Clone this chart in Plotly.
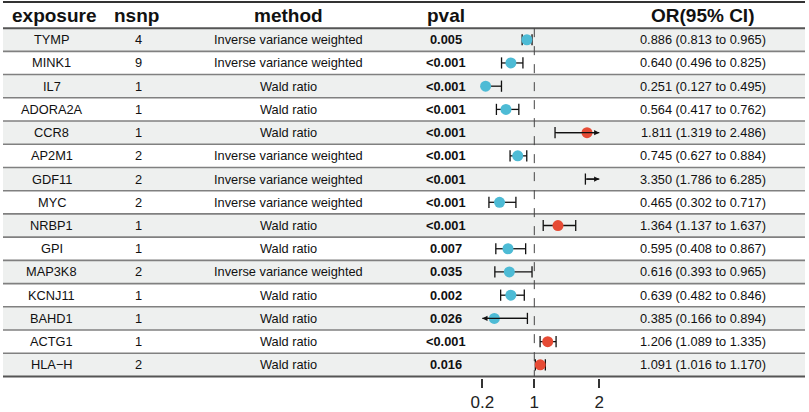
import plotly.graph_objects as go

exposure = ["TYMP", "MINK1", "IL7", "ADORA2A", "CCR8", "AP2M1", "GDF11", "MYC",
            "NRBP1", "GPI", "MAP3K8", "KCNJ11", "BAHD1", "ACTG1", "HLA−H"]
nsnp = [4, 9, 1, 1, 1, 2, 2, 2, 1, 1, 2, 1, 1, 1, 2]
ivw = "Inverse variance weighted"
wald = "Wald ratio"
method = [ivw, ivw, wald, wald, wald, ivw, ivw, ivw, wald, wald, ivw, wald, wald, wald, wald]
pval = ["0.005", "<0.001", "<0.001", "<0.001", "<0.001", "<0.001", "<0.001", "<0.001",
        "<0.001", "0.007", "0.035", "0.002", "0.026", "<0.001", "0.016"]
or_val = [0.886, 0.640, 0.251, 0.564, 1.811, 0.745, 3.350, 0.465, 1.364, 0.595, 0.616, 0.639, 0.385, 1.206, 1.091]
lower = [0.813, 0.496, 0.127, 0.417, 1.319, 0.627, 1.786, 0.302, 1.137, 0.408, 0.393, 0.482, 0.166, 1.089, 1.016]
upper = [0.965, 0.825, 0.495, 0.762, 2.486, 0.884, 6.285, 0.717, 1.637, 0.867, 0.965, 0.846, 0.894, 1.335, 1.170]
headers = ["exposure", "nsnp", "method", "pval", "", "OR(95% CI)"]
tick_vals = [0.2, 1, 2]
tick_text = ["0.2", "1", "2"]
xlim = [0.2, 2.0]

W, H = 809, 412
# pixel geometry
px0, ppu = 469.3, 65.0          # x pixel of value 0, pixels per unit
row_top, row_h = 28.5, 23.53    # y pixel of header line, row height
plot_bottom = 383.0
min_arrow = 0.1                 # arrows shorter than this are hidden under the point

def ypx_to_i(p):
    return 0.5 + (p - row_top) / row_h

xr = [(0 - px0) / ppu, (W - px0) / ppu]
yr = [ypx_to_i(plot_bottom), ypx_to_i(0)]

BLUE = "#4DBBD5"
RED = "#E64B35"
FONT = "Liberation Sans"
n = len(exposure)
rows = list(range(1, n + 1))

fig = go.Figure()
shapes = []
annotations = []

# shading
for i in rows:
    if i % 2 == 1:
        shapes.append(dict(type="rect", xref="paper", yref="y", x0=3 / W, x1=805 / W,
                           y0=i - 0.5, y1=i + 0.5, fillcolor="#EEF0EF", line=dict(width=0), layer="below"))
# separators
for i in range(0, n + 1):
    yline = i + 0.5
    if i == 0 or i == n:
        col, wd = "#555555", 2
    else:
        col, wd = "#808080", 1.6
    shapes.append(dict(type="line", xref="paper", yref="y", x0=3 / W, x1=805 / W,
                       y0=yline, y1=yline, line=dict(color=col, width=wd), layer="below"))
# top line
shapes.append(dict(type="line", xref="paper", yref="y", x0=3 / W, x1=805 / W,
                   y0=ypx_to_i(2), y1=ypx_to_i(2), line=dict(color="#333333", width=2), layer="below"))
# reference line
shapes.append(dict(type="line", xref="x", yref="y", x0=1, x1=1, y0=0.5, y1=n + 0.5,
                   line=dict(color="#444444", width=1, dash="dash"), layer="below"))

# whiskers
wx, wy, capx, capy = [], [], [], []
for i, v, lo, hi in zip(rows, or_val, lower, upper):
    a = max(lo, xlim[0])
    b = min(hi, xlim[1])
    wx += [a, b, None]
    wy += [i, i, None]
    if lo >= xlim[0]:
        capx.append(lo); capy.append(i)
    elif v - xlim[0] > min_arrow:
        annotations.append(dict(x=xlim[0], y=i, ax=b, ay=i, xref="x", yref="y", axref="x", ayref="y",
                                showarrow=True, arrowhead=2, arrowsize=0.8, arrowwidth=1.3,
                                arrowcolor="#111111", text="", standoff=0, startstandoff=0))
    if hi <= xlim[1]:
        capx.append(hi); capy.append(i)
    else:
        annotations.append(dict(x=xlim[1], y=i, ax=a, ay=i, xref="x", yref="y", axref="x", ayref="y",
                                showarrow=True, arrowhead=2, arrowsize=0.8, arrowwidth=1.3,
                                arrowcolor="#111111", text="", standoff=0, startstandoff=0))

fig.add_trace(go.Scatter(x=wx, y=wy, mode="lines", line=dict(color="#111111", width=1.3),
                         hoverinfo="skip", showlegend=False))
fig.add_trace(go.Scatter(x=capx, y=capy, mode="markers",
                         marker=dict(symbol="line-ns", size=8, line=dict(color="#111111", width=1.3)),
                         hoverinfo="skip", showlegend=False))

px_, py_, pc_ = [], [], []
for i, v in zip(rows, or_val):
    if xlim[0] <= v <= xlim[1]:
        px_.append(v); py_.append(i); pc_.append(BLUE if v < 1 else RED)
fig.add_trace(go.Scatter(x=px_, y=py_, mode="markers",
                         marker=dict(size=11, color=pc_, line=dict(width=0)),
                         showlegend=False))

# table text
hdr_y = ypx_to_i(15.5)
hdr_x = [54, 136, 288, 446, None, 702]
for h, xp in zip(headers, hdr_x):
    if xp is None:
        continue
    annotations.append(dict(x=xp / W, y=hdr_y, xref="paper", yref="y", text=f"<b>{h}</b>", showarrow=False,
                            font=dict(family=FONT, size=19, color="#111111"), xanchor="center", yanchor="middle"))
for i in rows:
    k = i - 1
    ci_txt = f"{or_val[k]:.3f} ({lower[k]:.3f} to {upper[k]:.3f})"
    cells = [(51.5, exposure[k], False), (138, str(nsnp[k]), False), (288, method[k], False),
             (446, pval[k], True), (703, ci_txt, False)]
    for xp, t, bold in cells:
        annotations.append(dict(x=xp / W, y=i, xref="paper", yref="y",
                                text=f"<b>{t}</b>" if bold else t, showarrow=False,
                                font=dict(family=FONT, size=12.8, color="#111111"),
                                xanchor="center", yanchor="middle"))

fig.update_layout(
    width=W, height=H, margin=dict(l=0, r=0, t=0, b=H - plot_bottom),
    paper_bgcolor="white", plot_bgcolor="rgba(0,0,0,0)",
    shapes=shapes, annotations=annotations,
    xaxis=dict(range=xr, tickvals=tick_vals, ticktext=tick_text, ticks="outside", ticklen=9,
               tickwidth=1.5, tickcolor="#333333", showgrid=False, zeroline=False, showline=False,
               tickfont=dict(family=FONT, size=17, color="#222222"), fixedrange=True),
    yaxis=dict(range=yr, showgrid=False, zeroline=False, showline=False, showticklabels=False,
               ticks="", fixedrange=True),
)
fig.write_html("out.html", config={"displayModeBar": False},
               post_script="document.body.style.margin='0px';document.body.style.overflow='hidden';")
